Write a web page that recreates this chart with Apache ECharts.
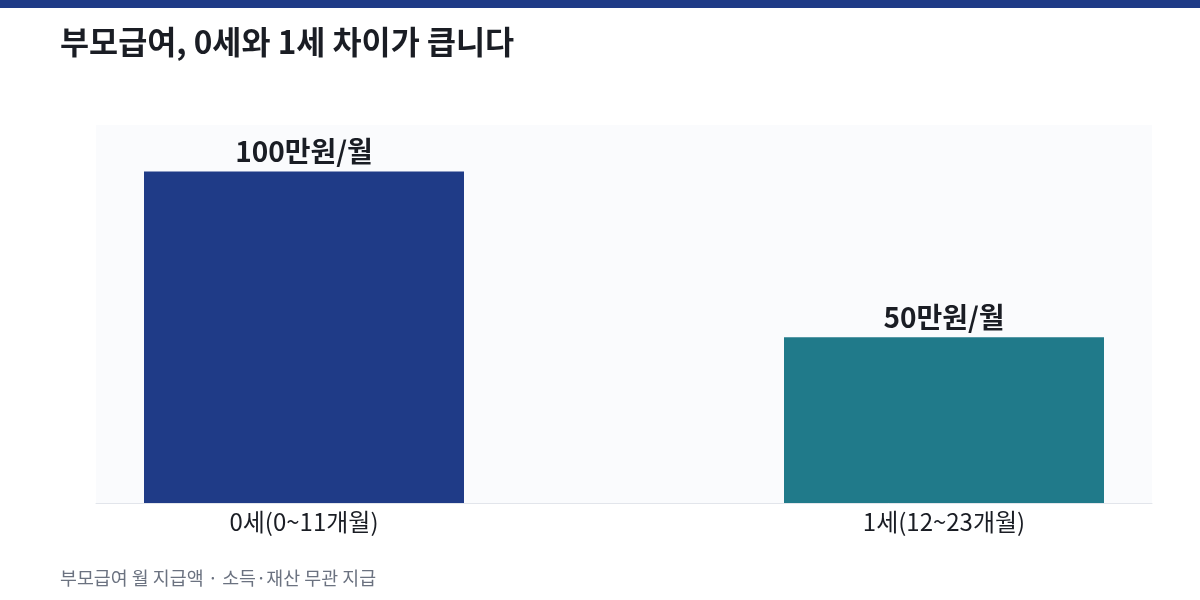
<!DOCTYPE html>
<html><head><meta charset="utf-8">
<script src="https://cdn.jsdelivr.net/npm/echarts@6/dist/echarts.min.js"></script>
<style>html,body{margin:0;padding:0;background:#fff}#c{width:1200px;height:600px}</style>
</head><body><div id="c"></div>
<script>
const categories = ['0세(0~11개월)', '1세(12~23개월)'];
const values = [100, 50];
const valueLabels = ['100만원/월', '50만원/월'];
const barColors = ['#1f3b87', '#207a8a'];

const FONT = '"Noto Sans CJK KR", "Noto Sans", sans-serif';
const chart = echarts.init(document.getElementById('c'));
chart.setOption({
  backgroundColor: '#ffffff',
  animation: false,
  title: {
    text: '부모급여, 0세와 1세 차이가 큽니다',
    left: 55, top: 21,
    textStyle: { fontFamily: FONT, fontSize: 31.6, fontWeight: 'bold', color: '#1a1d24' }
  },
  graphic: [
    { type: 'rect', left: 0, top: 0, shape: { width: 1200, height: 8 }, style: { fill: '#1f3b87' } },
    { type: 'text', left: 60, top: 569, style: { text: '부모급여 월 지급액 · 소득·재산 무관 지급', fontFamily: FONT, fontSize: 18.4, fill: '#6b7280' } }
  ],
  grid: [
    { left: 96, right: 48, top: 125, bottom: 97, show: true, backgroundColor: '#fafbfd', borderWidth: 0 },
    { left: 304, width: 640, top: 125, bottom: 97, show: false }
  ],
  xAxis: [
    { type: 'category', gridIndex: 0, data: categories,
      axisLine: { lineStyle: { color: '#e2e5eb', width: 1 } },
      axisTick: { show: false }, axisLabel: { show: false } },
    { type: 'category', gridIndex: 1, data: categories, boundaryGap: false,
      axisLine: { show: false }, axisTick: { show: false },
      axisLabel: { fontFamily: FONT, fontSize: 24, color: '#1a1d24', margin: 7 } }
  ],
  yAxis: [
    { type: 'value', gridIndex: 0, min: 0, max: 114, show: false, splitLine: { show: false } },
    { type: 'value', gridIndex: 1, min: 0, max: 114, show: false, splitLine: { show: false } }
  ],
  series: [{
    type: 'bar', xAxisIndex: 1, yAxisIndex: 1, barWidth: 320, clip: false,
    data: values.map((v, i) => ({ value: v, itemStyle: { color: barColors[i] },
      label: { formatter: valueLabels[i] } })),
    label: { show: true, position: 'top', distance: 6, fontFamily: FONT, fontSize: 28, fontWeight: 'bold', color: '#1a1d24' }
  }]
});
</script></body></html>
